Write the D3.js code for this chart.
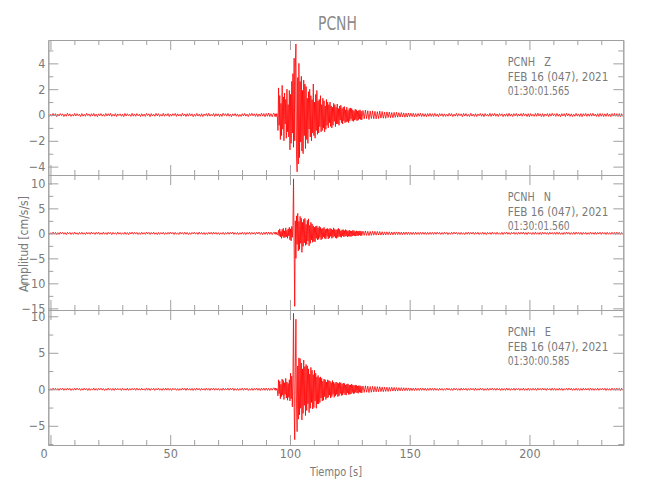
<!DOCTYPE html>
<html><head><meta charset="utf-8">
<script src="https://cdn.jsdelivr.net/npm/d3@7"></script>
<style>body{margin:0;background:#fff}</style>
</head><body><svg id="c" width="650" height="500"></svg>
<script>
const stationName = "PCNH";
const channels = ["Z", "N", "E"];
const dateLabel = "FEB 16 (047), 2021";
const startTimes = ["01:30:01.565", "01:30:01.560", "01:30:00.585"];
const xTitle = "Tiempo [s]";
const yTitle = "Amplitud [cm/s/s]";
const xTicksMajor = [0, 50, 100, 150, 200];
const xDomain = [-0.9, 239.2];
const yDomains = [[-4.65, 5.81], [-15.33, 11.67], [-7.63, 10.86]];
const yTicksMajor = [[-4, -2, 0, 2, 4], [-15, -10, -5, 0, 5, 10], [-5, 0, 5, 10]];
const yMinorStep = [1, 2.5, 2.5];

// sampling grids (seconds) of the pieces of every trace
const preStart = -0.9, preStep = 0.5;
const evAStart = 93.5, evAStep = 0.25;
const evBStart = 130.5, evBStep = 0.5;
const postStart = 160.5, postStep = 0.5;

// ================= Z component (cm/s/s)
const zPre = [0.08,-0.11,0.05,-0.09,0.12,-0.06,0.1,-0.13,0.07,-0.08,
0.11,-0.05,0.09,-0.12,0.06,-0.1,0.13,-0.07,0.09,-0.11,
0.05,-0.09,0.12,-0.08,0.1,-0.06,0.07,-0.12,0.11,-0.09,
0.06,-0.1,0.13,-0.05,0.08,-0.11,0.1,-0.07,0.12,-0.1,
0.07,-0.13,0.09,-0.06,0.11,-0.09,0.05,-0.1,0.12,-0.08,
0.1,-0.07,0.13,-0.11,0.06,-0.09,0.11,-0.12,0.08,-0.05,
0.09,-0.1,0.07,-0.13,0.12,-0.08,0.1,-0.06,0.05,-0.11,
0.13,-0.09,0.08,-0.1,0.11,-0.07,0.06,-0.12,0.1,-0.09,
0.07,-0.11,0.12,-0.05,0.09,-0.13,0.11,-0.08,0.06,-0.1,
0.12,-0.07,0.1,-0.11,0.05,-0.09,0.13,-0.1,0.08,-0.06,
0.11,-0.12,0.07,-0.09,0.1,-0.05,0.12,-0.11,0.09,-0.08,
0.06,-0.1,0.13,-0.07,0.08,-0.12,0.1,-0.09,0.11,-0.06,
0.09,-0.13,0.05,-0.1,0.12,-0.08,0.07,-0.11,0.1,-0.12,
0.08,-0.06,0.11,-0.1,0.13,-0.09,0.06,-0.07,0.12,-0.11,
0.1,-0.08,0.09,-0.12,0.07,-0.11,0.13,-0.05,0.1,-0.09,
0.12,-0.1,0.06,-0.13,0.09,-0.07,0.11,-0.1,0.08,-0.12,
0.05,-0.11,0.1,-0.08,0.12,-0.09,0.07,-0.13,0.11,-0.06,
0.13,-0.07,0.09,-0.11,0.1,-0.12,0.08,-0.1,0.14,-0.09,
0.11,-0.13,0.12,-0.1,0.15,-0.12,0.1,-0.14,0.13];
const zEventA = [0.1,-0.12,0.09,-0.13,0.11,-0.1,
-1.2,2.1,-0.8,1.5,-1.9,0.9,-1.6,2.3,-1.1,1.4,-2.0,1.7,-0.7,1.2,-1.8,2.0,-1.3,0.8,-1.7,1.9,
-2.7,1.6,-2.2,2.6,-1.4,3.2,-2.5,4.4,
-2.0,3.6,5.5,-3.1,-4.4,2.9,-3.8,4.0,
-3.3,2.6,-2.1,3.0,-2.8,1.9,-3.0,2.7,-1.6,2.4,-2.6,2.2,
-1.9,1.3,-2.2,1.8,-1.1,2.0,-1.7,1.5,-2.0,1.2,-1.4,2.4,-1.6,1.0,-1.8,1.6,-1.2,1.9,-1.5,1.1,
-1.4,1.2,-0.9,1.5,-1.3,0.8,-1.2,1.3,-1.0,1.1,-1.3,0.7,-1.1,1.2,-0.8,1.0,
-1.0,0.8,-0.6,1.0,-0.9,0.7,-1.0,0.6,-0.8,0.9,-0.5,0.8,-0.9,0.6,-0.7,0.85,
-0.7,0.5,-0.8,0.7,-0.4,0.75,-0.6,0.5,-0.7,0.6,-0.45,0.65,-0.6,0.4,-0.55,0.6,-0.5,0.35,-0.6,0.5,
-0.45,0.55,-0.3,0.5,-0.45,0.4,-0.5,0.3,-0.4,0.45,-0.35,0.4,-0.45,0.3,-0.4,0.35,-0.3,0.4,-0.35,0.3,-0.38];
const zEventB = [0.35,-0.3,0.38,-0.28,0.33,-0.35,0.3,-0.27,0.32,-0.3,
0.28,-0.3,0.25,-0.28,0.3,-0.24,0.27,-0.25,0.22,-0.26,
0.24,-0.2,0.23,-0.21,0.19,-0.22,0.2,-0.18,0.21,-0.17,
0.18,-0.16,0.19,-0.15,0.16,-0.17,0.14,-0.16,0.15,-0.13,
0.14,-0.12,0.13,-0.14,0.11,-0.13,0.12,-0.1,0.13,-0.12,
0.11,-0.12,0.1,-0.13,0.11,-0.1,0.12,-0.11,0.1,-0.12];
const zPost = [0.12,-0.1,0.08,-0.13,0.11,-0.07,0.1,-0.12,0.09,-0.11,
0.06,-0.1,0.13,-0.08,0.11,-0.12,0.07,-0.09,0.12,-0.1,
0.1,-0.06,0.09,-0.13,0.12,-0.08,0.11,-0.1,0.05,-0.12,
0.13,-0.09,0.07,-0.11,0.1,-0.12,0.08,-0.06,0.12,-0.1,
0.09,-0.13,0.11,-0.07,0.06,-0.1,0.13,-0.11,0.1,-0.08,
0.12,-0.1,0.08,-0.12,0.11,-0.05,0.09,-0.13,0.07,-0.1,
0.1,-0.11,0.13,-0.09,0.08,-0.12,0.1,-0.07,0.12,-0.11,
0.07,-0.08,0.11,-0.1,0.13,-0.06,0.09,-0.12,0.1,-0.13,
0.11,-0.09,0.06,-0.11,0.12,-0.1,0.14,-0.08,0.09,-0.12,
0.1,-0.13,0.08,-0.07,0.11,-0.12,0.1,-0.09,0.13,-0.06,
0.09,-0.11,0.12,-0.1,0.07,-0.13,0.11,-0.08,0.1,-0.12,
0.13,-0.07,0.1,-0.11,0.09,-0.12,0.06,-0.1,0.12,-0.09,
0.08,-0.12,0.11,-0.13,0.1,-0.07,0.12,-0.11,0.09,-0.1,
0.11,-0.09,0.13,-0.08,0.07,-0.11,0.1,-0.12,0.12,-0.1,
0.1,-0.12,0.09,-0.11,0.13,-0.1,0.08,-0.13,0.11,-0.09,
0.12,-0.1,0.1,-0.12,0.11,-0.13,0.1,-0.11];

// ================= N component (cm/s/s)
const nPre = [0.18,-0.22,0.12,-0.2,0.25,-0.15,0.19,-0.24,0.14,-0.21,
0.23,-0.13,0.2,-0.18,0.16,-0.25,0.21,-0.11,0.19,-0.22,
0.15,-0.2,0.24,-0.17,0.12,-0.23,0.2,-0.16,0.22,-0.19,
0.13,-0.24,0.21,-0.15,0.18,-0.2,0.25,-0.12,0.17,-0.22,
0.2,-0.16,0.23,-0.21,0.11,-0.19,0.24,-0.18,0.15,-0.23,
0.22,-0.14,0.18,-0.25,0.2,-0.17,0.13,-0.21,0.24,-0.16,
0.17,-0.22,0.12,-0.19,0.23,-0.2,0.16,-0.24,0.21,-0.13,
0.25,-0.18,0.2,-0.15,0.19,-0.23,0.14,-0.2,0.22,-0.17,
0.16,-0.21,0.24,-0.12,0.2,-0.22,0.18,-0.16,0.23,-0.19,
0.13,-0.25,0.19,-0.2,0.17,-0.14,0.22,-0.21,0.15,-0.18,
0.21,-0.17,0.25,-0.13,0.18,-0.23,0.2,-0.19,0.12,-0.22,
0.24,-0.15,0.16,-0.2,0.22,-0.18,0.19,-0.24,0.14,-0.21,
0.2,-0.12,0.23,-0.17,0.15,-0.22,0.25,-0.16,0.18,-0.2,
0.17,-0.23,0.13,-0.21,0.2,-0.15,0.22,-0.19,0.24,-0.14,
0.19,-0.2,0.16,-0.24,0.12,-0.18,0.21,-0.22,0.17,-0.16,
0.23,-0.19,0.2,-0.13,0.25,-0.21,0.15,-0.2,0.18,-0.23,
0.14,-0.18,0.22,-0.2,0.17,-0.25,0.19,-0.15,0.24,-0.2,
0.2,-0.16,0.18,-0.23,0.21,-0.14,0.26,-0.22,0.19,-0.24,
0.22,-0.2,0.27,-0.23,0.25,-0.21,0.24,-0.26,0.22];
const nEventA = [0.2,-0.18,0.22,-0.2,0.19,-0.22,
-0.3,0.6,-0.5,0.9,-0.7,0.4,-1.0,0.8,-0.6,1.0,-0.9,0.5,-0.8,1.1,-0.7,0.6,-1.0,0.9,-0.5,1.2,
-1.3,0.9,-1.5,1.4,-0.8,1.6,10.9,-3.0,
-14.6,2.5,-5.0,3.5,-2.2,4.0,-3.5,2.4,
-3.2,3.4,-2.0,3.0,-3.8,2.2,-2.6,2.8,-1.9,3.0,-2.4,1.8,
-2.2,2.6,-1.5,2.9,-2.5,1.6,-2.0,2.2,-1.3,1.9,-1.8,1.5,-1.6,1.2,-1.7,1.4,-1.0,1.5,-1.3,1.1,
-1.2,1.4,-0.8,1.2,-1.3,0.9,-1.1,1.0,-0.7,1.2,-1.0,0.8,-1.1,0.9,-0.6,1.0,
-1.1,0.8,-0.9,1.0,-0.6,0.9,-1.0,0.7,-0.8,1.1,-0.6,0.8,-0.9,0.7,-1.0,0.8,
-0.8,1.0,-0.6,0.8,-0.75,0.5,-0.8,0.7,-0.5,0.75,-0.7,0.55,-0.6,0.75,-0.5,0.6,-0.7,0.45,-0.6,0.65,
-0.6,0.5,-0.65,0.45,-0.55,0.6,-0.4,0.55,-0.5,0.35,-0.55,0.5,-0.45,0.4,-0.5,0.45,-0.35,0.5,-0.45,0.4,-0.45];
const nEventB = [0.45,-0.4,0.48,-0.42,0.4,-0.45,0.38,-0.4,0.42,-0.36,
0.4,-0.35,0.38,-0.33,0.36,-0.35,0.32,-0.34,0.3,-0.33,
0.31,-0.28,0.3,-0.29,0.27,-0.3,0.28,-0.26,0.29,-0.25,
0.27,-0.26,0.24,-0.27,0.25,-0.23,0.26,-0.24,0.23,-0.25,
0.22,-0.24,0.23,-0.21,0.24,-0.22,0.2,-0.23,0.22,-0.21,
0.23,-0.2,0.21,-0.22,0.2,-0.21,0.22,-0.2,0.21,-0.22];
const nPost = [0.21,-0.18,0.24,-0.15,0.2,-0.22,0.17,-0.2,0.23,-0.16,
0.19,-0.24,0.14,-0.2,0.22,-0.18,0.25,-0.13,0.2,-0.21,
0.16,-0.22,0.2,-0.19,0.13,-0.24,0.21,-0.17,0.23,-0.2,
0.18,-0.15,0.24,-0.21,0.19,-0.16,0.22,-0.23,0.14,-0.19,
0.22,-0.2,0.16,-0.25,0.2,-0.14,0.18,-0.22,0.24,-0.17,
0.15,-0.21,0.23,-0.18,0.12,-0.2,0.21,-0.24,0.19,-0.16,
0.24,-0.19,0.17,-0.22,0.2,-0.13,0.23,-0.2,0.16,-0.21,
0.2,-0.17,0.22,-0.14,0.25,-0.2,0.18,-0.23,0.21,-0.15,
0.13,-0.23,0.19,-0.2,0.24,-0.18,0.15,-0.21,0.2,-0.24,
0.22,-0.16,0.2,-0.19,0.17,-0.22,0.23,-0.14,0.19,-0.2,
0.18,-0.21,0.24,-0.17,0.21,-0.2,0.14,-0.23,0.2,-0.18,
0.23,-0.15,0.19,-0.22,0.16,-0.19,0.22,-0.21,0.25,-0.16,
0.17,-0.2,0.21,-0.24,0.19,-0.15,0.2,-0.22,0.14,-0.19,
0.24,-0.18,0.16,-0.21,0.22,-0.2,0.19,-0.13,0.23,-0.22,
0.2,-0.16,0.18,-0.23,0.21,-0.19,0.15,-0.2,0.22,-0.17,
0.19,-0.22,0.23,-0.18,0.2,-0.21,0.17,-0.2];

// ================= E component (cm/s/s)
const ePre = [0.12,-0.15,0.08,-0.13,0.16,-0.1,0.14,-0.09,0.11,-0.15,
0.13,-0.08,0.15,-0.14,0.1,-0.12,0.17,-0.09,0.13,-0.16,
0.09,-0.13,0.14,-0.11,0.16,-0.07,0.12,-0.15,0.1,-0.12,
0.15,-0.1,0.11,-0.16,0.13,-0.14,0.08,-0.11,0.16,-0.13,
0.1,-0.15,0.13,-0.08,0.15,-0.12,0.11,-0.16,0.09,-0.13,
0.16,-0.11,0.09,-0.14,0.12,-0.15,0.14,-0.1,0.13,-0.08,
0.11,-0.16,0.15,-0.12,0.08,-0.13,0.16,-0.14,0.1,-0.12,
0.14,-0.09,0.12,-0.15,0.16,-0.11,0.1,-0.13,0.15,-0.1,
0.08,-0.14,0.16,-0.12,0.13,-0.16,0.11,-0.09,0.14,-0.15,
0.12,-0.1,0.15,-0.13,0.09,-0.15,0.13,-0.12,0.16,-0.11,
0.15,-0.13,0.1,-0.16,0.14,-0.08,0.12,-0.14,0.11,-0.16,
0.09,-0.12,0.16,-0.1,0.13,-0.15,0.15,-0.11,0.1,-0.13,
0.14,-0.16,0.11,-0.13,0.16,-0.09,0.12,-0.15,0.13,-0.1,
0.1,-0.14,0.15,-0.12,0.11,-0.16,0.14,-0.08,0.16,-0.13,
0.13,-0.11,0.12,-0.15,0.09,-0.14,0.16,-0.12,0.11,-0.1,
0.16,-0.13,0.14,-0.09,0.15,-0.16,0.1,-0.14,0.12,-0.15,
0.11,-0.12,0.16,-0.14,0.13,-0.1,0.15,-0.16,0.09,-0.13,
0.14,-0.15,0.12,-0.11,0.16,-0.14,0.13,-0.17,0.15,-0.12,
0.16,-0.14,0.17,-0.15,0.14,-0.16,0.15,-0.13,0.16];
const eEventA = [0.15,-0.13,0.16,-0.14,0.12,-0.15,
-0.9,1.3,-0.6,1.1,-1.3,0.7,-1.0,1.4,-0.8,1.2,-1.4,0.9,-0.7,1.5,-1.2,1.0,-1.5,0.8,-1.1,1.3,
-1.6,2.2,-1.3,1.8,-2.4,1.5,10.4,-2.5,
-6.9,3.0,9.6,-2.0,-5.8,3.2,-4.1,4.3,
-3.5,4.2,-2.6,3.6,-4.2,2.8,-3.3,4.0,-2.2,3.1,-3.6,3.4,
-2.9,3.2,-2.0,2.8,-3.2,2.1,-2.6,3.0,-1.8,2.6,-2.7,2.0,-2.5,2.6,-1.6,2.2,-2.6,1.7,-2.0,1.9,
-2.0,1.6,-1.8,1.7,-1.2,1.5,-1.6,1.1,-1.5,1.4,-1.0,1.3,-1.4,1.0,-1.2,1.3,
-1.1,1.2,-0.8,1.1,-1.2,0.9,-1.0,1.2,-0.7,1.0,-1.1,0.8,-0.9,1.0,-0.7,0.9,
-1.0,0.8,-0.9,0.95,-0.6,0.9,-0.85,0.7,-0.8,0.85,-0.55,0.8,-0.75,0.6,-0.8,0.7,-0.5,0.75,-0.7,0.6,
-0.7,0.6,-0.65,0.7,-0.45,0.6,-0.6,0.5,-0.55,0.6,-0.4,0.55,-0.5,0.45,-0.55,0.5,-0.4,0.5,-0.45,0.4,-0.5];
const eEventB = [0.45,-0.42,0.48,-0.4,0.43,-0.45,0.38,-0.4,0.42,-0.36,
0.38,-0.35,0.36,-0.33,0.35,-0.32,0.3,-0.33,0.31,-0.29,
0.28,-0.3,0.27,-0.26,0.28,-0.24,0.26,-0.25,0.23,-0.24,
0.22,-0.21,0.23,-0.2,0.21,-0.19,0.2,-0.18,0.19,-0.2,
0.17,-0.18,0.16,-0.17,0.18,-0.16,0.15,-0.17,0.16,-0.15,
0.16,-0.14,0.15,-0.16,0.14,-0.15,0.16,-0.14,0.15,-0.16];
const ePost = [0.15,-0.13,0.1,-0.16,0.14,-0.11,0.12,-0.15,0.09,-0.13,
0.16,-0.1,0.13,-0.14,0.11,-0.16,0.15,-0.09,0.12,-0.14,
0.1,-0.15,0.16,-0.12,0.13,-0.1,0.14,-0.16,0.11,-0.13,
0.14,-0.09,0.12,-0.15,0.16,-0.13,0.1,-0.12,0.15,-0.11,
0.12,-0.16,0.09,-0.13,0.15,-0.14,0.13,-0.1,0.16,-0.12,
0.11,-0.14,0.15,-0.1,0.12,-0.16,0.14,-0.13,0.1,-0.15,
0.16,-0.12,0.13,-0.15,0.1,-0.11,0.15,-0.14,0.12,-0.09,
0.13,-0.15,0.11,-0.12,0.16,-0.14,0.09,-0.13,0.15,-0.16,
0.1,-0.13,0.14,-0.11,0.12,-0.15,0.16,-0.1,0.13,-0.12,
0.15,-0.1,0.12,-0.16,0.14,-0.09,0.11,-0.14,0.16,-0.13,
0.12,-0.15,0.1,-0.13,0.15,-0.12,0.14,-0.16,0.09,-0.11,
0.14,-0.12,0.16,-0.1,0.13,-0.15,0.11,-0.13,0.15,-0.14,
0.1,-0.16,0.12,-0.14,0.15,-0.11,0.13,-0.1,0.14,-0.15,
0.16,-0.13,0.11,-0.15,0.1,-0.12,0.15,-0.14,0.12,-0.1,
0.13,-0.11,0.14,-0.16,0.12,-0.13,0.1,-0.15,0.16,-0.12,
0.11,-0.14,0.15,-0.12,0.13,-0.16,0.14,-0.11];

const traces = [
  [zPre, zEventA, zEventB, zPost],
  [nPre, nEventA, nEventB, nPost],
  [ePre, eEventA, eEventB, ePost]
];
const grids = [[preStart, preStep], [evAStart, evAStep], [evBStart, evBStep], [postStart, postStep]];

// ---------------- drawing
const FONT = "'Liberation Sans Narrow','DejaVu Sans Condensed','Roboto Condensed','Liberation Sans',sans-serif";
const TXT = "#7a7a7a", AX = "#a0a0a0";
const L = 48.3, R = 623.3, T = 40, B = 445;
const ph = (B - T) / 3;
const svg = d3.select("#c");
const defs = svg.append("defs");
const x = d3.scaleLinear().domain(xDomain).range([L, R]);
const xMinor = d3.range(0, xDomain[1], 10).filter(v => !xTicksMajor.includes(v));

function samples(pieces) {
  const pts = [];
  pieces.forEach((vals, p) => {
    const [t0, dt] = grids[p];
    vals.forEach((v, i) => pts.push([t0 + i * dt, v]));
  });
  return pts;
}
function styleAxis(g) {
  g.selectAll(".domain").attr("stroke", AX).attr("stroke-width", 1);
  g.selectAll(".tick line").attr("stroke", AX).attr("stroke-width", 1);
  g.selectAll("text").attr("fill", TXT).style("font-family", FONT).style("font-stretch", "condensed").attr("font-size", 12.5);
}

channels.forEach((ch, i) => {
  const y0 = T + i * ph, y1 = y0 + ph;
  const dom = yDomains[i];
  const y = d3.scaleLinear().domain(dom).range([y1, y0]);
  const st = yMinorStep[i];
  const yMinor = d3.range(Math.ceil(dom[0] / st) * st, dom[1], st)
    .filter(v => !yTicksMajor[i].some(m => Math.abs(m - v) < 1e-6));

  defs.append("clipPath").attr("id", "clip" + i).append("rect")
    .attr("x", L).attr("y", y0).attr("width", R - L).attr("height", ph);

  svg.append("path").datum(samples(traces[i]))
    .attr("clip-path", `url(#clip${i})`)
    .attr("fill", "none").attr("stroke", "#ff0000").attr("stroke-width", 0.8)
    .attr("stroke-linejoin", "miter")
    .attr("d", d3.line().x(d => x(d[0])).y(d => y(d[1])));

  const g = svg.append("g");
  g.append("g").attr("transform", `translate(${L},0)`)
    .call(d3.axisLeft(y).tickValues(yTicksMajor[i]).tickSize(-10).tickSizeOuter(0).tickPadding(3)).call(styleAxis);
  g.append("g").attr("transform", `translate(${L},0)`)
    .call(d3.axisLeft(y).tickValues(yMinor).tickSize(-5).tickSizeOuter(0).tickFormat("")).call(styleAxis);
  g.append("g").attr("transform", `translate(${R},0)`)
    .call(d3.axisRight(y).tickValues(yTicksMajor[i]).tickSize(-10).tickSizeOuter(0).tickFormat("")).call(styleAxis);
  g.append("g").attr("transform", `translate(${R},0)`)
    .call(d3.axisRight(y).tickValues(yMinor).tickSize(-5).tickSizeOuter(0).tickFormat("")).call(styleAxis);
  g.append("g").attr("transform", `translate(0,${y0})`)
    .call(d3.axisTop(x).tickValues(xTicksMajor).tickSize(-10).tickSizeOuter(0).tickFormat("")).call(styleAxis);
  g.append("g").attr("transform", `translate(0,${y0})`)
    .call(d3.axisTop(x).tickValues(xMinor).tickSize(-5).tickSizeOuter(0).tickFormat("")).call(styleAxis);
  const bx = d3.axisBottom(x).tickValues(xTicksMajor).tickSize(-10).tickSizeOuter(0).tickPadding(4);
  bx.tickFormat(i < channels.length - 1 ? "" : d3.format("d"));
  const bg = g.append("g").attr("transform", `translate(0,${y1})`).call(bx).call(styleAxis);
  bg.selectAll(".tick text").filter(d => d === 0).attr("dx", -7);
  g.append("g").attr("transform", `translate(0,${y1})`)
    .call(d3.axisBottom(x).tickValues(xMinor).tickSize(-5).tickSizeOuter(0).tickFormat("")).call(styleAxis);

  const lines = [[`${stationName}   ${ch}`, 43.3], [dateLabel, 100.6], [startTimes[i], 62]];
  lines.forEach((ln, k) => {
    svg.append("text").attr("x", 507.7).attr("y", y0 + 26 + k * 14.5)
      .attr("fill", TXT).style("font-family", FONT).style("font-stretch", "condensed")
      .style("white-space", "pre").attr("font-size", 13)
      .attr("textLength", ln[1]).attr("lengthAdjust", "spacingAndGlyphs")
      .text(ln[0]);
  });
});

svg.append("text").attr("x", 337.5).attr("y", 30).attr("text-anchor", "middle")
  .attr("fill", "#8a8a8a").style("font-family", FONT).style("font-stretch", "condensed").attr("font-size", 20)
  .attr("textLength", 39).attr("lengthAdjust", "spacingAndGlyphs").text(stationName);
svg.append("text").attr("x", 336).attr("y", 476).attr("text-anchor", "middle")
  .attr("fill", TXT).style("font-family", FONT).style("font-stretch", "condensed").attr("font-size", 13)
  .style("white-space", "pre")
  .attr("textLength", 52).attr("lengthAdjust", "spacingAndGlyphs").text(xTitle);
svg.append("text").attr("transform", "translate(28,244) rotate(-90)").attr("text-anchor", "middle")
  .attr("fill", TXT).style("font-family", FONT).style("font-stretch", "condensed").attr("font-size", 13)
  .attr("textLength", 96).attr("lengthAdjust", "spacingAndGlyphs").text(yTitle);
</script></body></html>
